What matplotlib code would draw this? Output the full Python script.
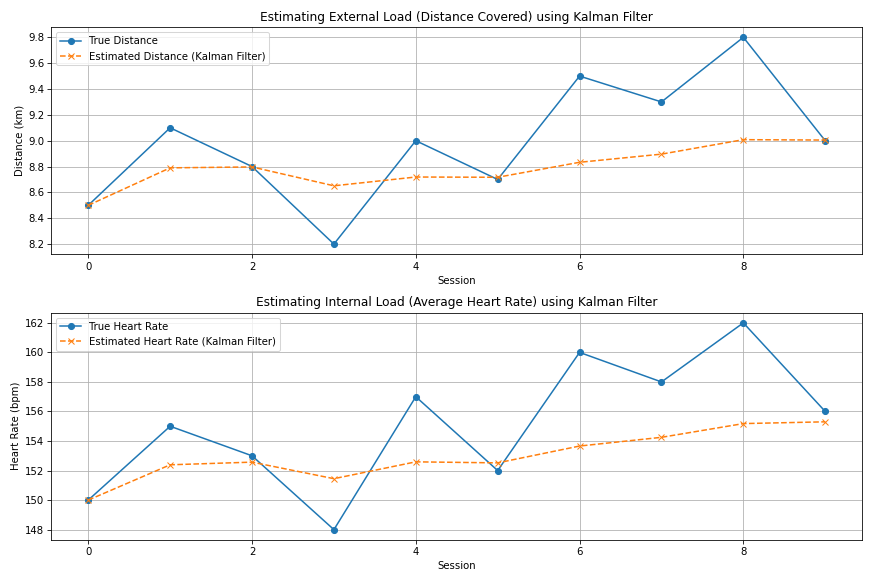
import matplotlib
matplotlib.use('Agg')
import matplotlib.pyplot as plt

sessions = list(range(10))

true_distance = [8.5, 9.1, 8.8, 8.2, 9.0, 8.7, 9.5, 9.3, 9.8, 9.0]
est_distance = [8.5, 8.79, 8.797, 8.651, 8.719, 8.717, 8.833, 8.896, 9.008, 9.005]

true_hr = [150, 155, 153, 148, 157, 152, 160, 158, 162, 156]
est_hr = [150.0, 152.39, 152.57, 151.45, 152.59, 152.52, 153.66, 154.25, 155.18, 155.3]

fig, (ax1, ax2) = plt.subplots(2, 1, figsize=(12, 8), dpi=72.75)

ax1.plot(sessions, true_distance, 'o-', label='True Distance')
ax1.plot(sessions, est_distance, 'x--', label='Estimated Distance (Kalman Filter)')
ax1.set_title('Estimating External Load (Distance Covered) using Kalman Filter')
ax1.set_xlabel('Session')
ax1.set_ylabel('Distance (km)')
ax1.legend(loc='upper left')
ax1.grid(True)

ax2.plot(sessions, true_hr, 'o-', label='True Heart Rate')
ax2.plot(sessions, est_hr, 'x--', label='Estimated Heart Rate (Kalman Filter)')
ax2.set_title('Estimating Internal Load (Average Heart Rate) using Kalman Filter')
ax2.set_xlabel('Session')
ax2.set_ylabel('Heart Rate (bpm)')
ax2.legend(loc='upper left')
ax2.grid(True)

plt.tight_layout()
plt.savefig('out.png', dpi=72.75)
